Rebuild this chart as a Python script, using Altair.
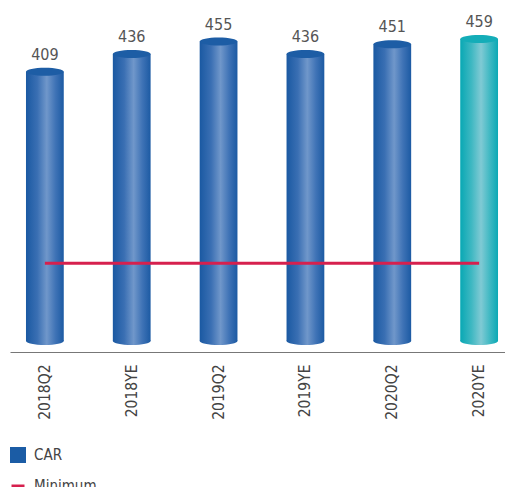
import altair as alt
import pandas as pd

categories = ["2018Q2", "2018YE", "2019Q2", "2019YE", "2020Q2", "2020YE"]
car_values = [409, 436, 455, 436, 451, 459]
minimum_values = [118, 118, 118, 118, 118, 118]
highlight = [False, False, False, False, False, True]
legend_labels = ["CAR", "Minimum"]
legend_shapes = ["square", "stroke"]

BLUE = "#1b5ca5"
CRIMSON = "#d6204e"
FONT = "Liberation Sans Narrow, DejaVu Sans Condensed, Arial Narrow, sans-serif"

df = pd.DataFrame({
    "category": categories,
    "value": car_values,
    "minimum": minimum_values,
    "highlight": highlight,
})
legend_df = pd.DataFrame({"series": legend_labels})

ELLIPSE = "M-1,0A1,0.21,0,1,1,1,0A1,0.21,0,1,1,-1,0Z"
BW = 37.8
SYM = BW * BW


def grad(stops):
    return alt.Gradient(
        gradient="linear", x1=0, x2=1, y1=0, y2=0,
        stops=[alt.GradientStop(offset=o, color=c) for o, c in stops],
    )


blue_grad = grad([(0, "#1a59a2"), (0.3, "#3a6fb3"), (0.55, "#7097ca"),
                  (0.78, "#3f73b6"), (1, "#1c5aa3")])
teal_grad = grad([(0, "#08a8b4"), (0.3, "#3fb8c2"), (0.55, "#80cad4"),
                  (0.78, "#40b9c3"), (1, "#0aa9b5")])

x_enc = alt.X(
    "category:N", sort=categories,
    scale=alt.Scale(range=[0, 504], paddingInner=0.565, paddingOuter=0.184),
    axis=alt.Axis(title=None, labelAngle=-90, ticks=False, domainColor="#777",
                  domainWidth=1, labelPadding=12, labelFontSize=15.5,
                  labelFont=FONT, labelColor="#444", grid=False),
)
y_scale = alt.Scale(domain=[-16.7, 506], nice=False, zero=False)
y_enc = alt.Y("value:Q", scale=y_scale, axis=None)

base = alt.Chart(df)


def cylinder(is_high, body, top):
    sub = base.transform_filter(alt.datum.highlight == is_high)
    bottom = sub.mark_point(shape=ELLIPSE, size=SYM, filled=True, fill=body,
                            opacity=1, strokeWidth=0).encode(
        x=x_enc, y=alt.YDatum(0, type="quantitative", scale=y_scale, axis=None))
    bar = sub.mark_bar(fill=body, opacity=1).encode(
        x=x_enc, y=y_enc, y2=alt.Y2Datum(0))
    cap = sub.mark_point(shape=ELLIPSE, size=SYM, filled=True, fill=top,
                         opacity=1, strokeWidth=0).encode(x=x_enc, y=y_enc)
    return [bottom, bar, cap]


layers = cylinder(False, blue_grad, "#1d5da5") + cylinder(True, teal_grad, "#14adb8")

labels = base.mark_text(dy=-12, baseline="alphabetic", fontSize=16, font=FONT,
                        color="#555").encode(x=x_enc, y=y_enc, text="value:Q")

min_line = base.mark_line(color=CRIMSON, strokeWidth=3, strokeCap="butt").encode(
    x=x_enc, y=alt.Y("minimum:Q", scale=y_scale, axis=None))


def leg():
    return alt.Legend(
        title=None, orient="none", legendX=0, legendY=439,
        symbolSize=169, labelFontSize=15, labelFont=FONT, labelColor="#444",
        labelOffset=8, rowPadding=10, padding=0, symbolStrokeWidth=3,
        symbolOpacity=1,
    )


legend_layer = alt.Chart(legend_df).mark_point(size=0, filled=True, opacity=1,
                                               strokeWidth=3).encode(
    fill=alt.Fill("series:N", scale=alt.Scale(domain=legend_labels, range=[BLUE, CRIMSON]),
                  legend=leg()),
    stroke=alt.Stroke("series:N", scale=alt.Scale(domain=legend_labels, range=[BLUE, CRIMSON]),
                      legend=leg()),
    shape=alt.Shape("series:N", scale=alt.Scale(domain=legend_labels, range=legend_shapes),
                    legend=leg()),
)

chart = alt.layer(*layers, labels, min_line, legend_layer).properties(
    width=495, height=344,
    autosize=alt.AutoSizeParams(type="none"),
    padding={"left": 2, "top": 0, "right": 0, "bottom": 135},
).configure_view(stroke=None)

chart.save("out.html", embed_options={"renderer": "svg", "actions": False})
